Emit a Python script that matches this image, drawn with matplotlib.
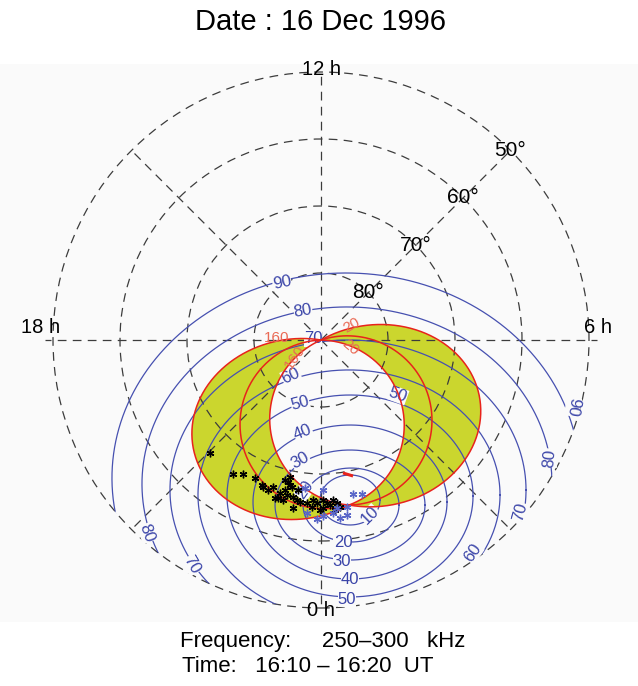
import numpy as np
import matplotlib.pyplot as plt
from matplotlib.patches import Circle, Polygon, Rectangle

plt.rcParams['font.family'] = ['Liberation Sans', 'DejaVu Sans']

# map coordinates are degrees of colatitude: x toward 06 MLT, y toward 12 MLT
lat_circles = [80, 70, 60, 50]
lat_labels = ['80°', '70°', '60°', '50°']
mlt_lines = [0, 3, 6, 9, 12, 15, 18, 21]

# source footprint, where all the cone curves meet again
src_x, src_y = 4.18, -24.63

# cone curves: side of the pole-source chord, bulge and ellipse centre offset (deg)
cone_side = [-1, -1, -1, 1, 1, 1]
cone_bulge = [21.5, 14.2, 9.7, 10.3, 14.5, 21.9]
cone_offset = [5.8, 1.6, -3.2, -2.4, 1.85, 6.1]
cone_text = ['160', '160', '20', '20']
cone_text_x = [-6.57, -3.88, 4.63, 4.33]
cone_text_y = [0.30, -2.54, 2.24, -1.04]
cone_text_rot = [0, 55, 30, -40]

# angle contours (ellipses in map coordinates)
ang_levels = [10, 20, 30, 40, 50, 60, 70, 80, 90]
ang_cx = [4.33, 4.48, 4.33, 4.33, 4.33, 4.18, 4.03, 3.88, 3.73]
ang_cy = [-23.88, -24.63, -24.63, -24.18, -23.28, -23.13, -22.39, -21.49, -20.60]
ang_a = [4.48, 7.16, 11.19, 14.48, 18.36, 22.54, 26.57, 30.60, 34.93]
ang_b = [3.73, 5.52, 8.21, 11.49, 15.07, 18.66, 22.39, 26.42, 30.60]

ang_text = ['90', '80', '70', '60', '50', '40', '30', '20', '50', '10', '20', '30', '40', '50',
            '60', '70', '80', '90', '80', '70']
ang_text_x = [-5.82, -2.69, -1.19, -4.48, -3.13, -2.69, -3.13, -2.39, 11.49, 7.31, 3.28, 3.13,
              4.33, 3.88, 22.69, 29.70, 34.18, 37.61, -25.97, -19.25]
ang_text_y = [8.51, 4.33, 0.15, -5.37, -9.40, -13.73, -17.91, -22.39, -8.21, -26.12, -30.15,
              -33.13, -35.82, -38.66, -31.79, -25.67, -17.61, -10.0, -28.81, -33.58]
ang_text_rot = [12, 10, 0, 25, 15, 22, 30, 55, -20, 45, 0, 0, 0, 0, 55, 75, 85, -100, -70, -60]

# observed source positions
obs_x = [-16.57, -13.13, -11.64, -9.85, -8.81, -8.66, -7.16, -6.87, -6.42, -5.37, -4.93, -4.63,
         -4.33, -5.37, -5.07, -4.18, -3.58, -4.18, -3.43, -3.13, -2.09, -1.34, -1.19, -0.60,
         -0.15, 0.30, 0.30, 0.90, 1.34, 1.79, 2.09, 2.39, 2.84, -6.12, -4.63, -7.91, -5.67]
obs_y = [-16.87, -20.0, -20.0, -20.6, -21.64, -21.94, -21.94, -23.58, -23.58, -20.9, -21.19,
         -21.64, -21.94, -22.39, -23.13, -23.43, -23.88, -25.07, -22.39, -24.18, -24.33, -24.93,
         -23.88, -24.33, -25.37, -25.07, -23.88, -24.33, -24.63, -23.88, -25.37, -24.33, -24.93,
         -22.84, -20.45, -22.39, -23.88]
alt_x = [-2.39, 0.30, 4.78, 6.12, -0.60, 0.30, 1.79, 2.84, 3.88, 2.39, 3.88, -2.09]
alt_y = [-22.09, -22.39, -22.99, -22.99, -26.72, -26.27, -25.82, -26.57, -26.12, -25.07,
         -24.93, -25.82]

# spacecraft footprint track
sc_x = [3.28, 4.78]
sc_y = [-19.85, -20.30]

grid_col = '#3c3c3c'
blue = '#4650b0'
red = '#e8231c'
bg = '#fafafa'
dash = (0, (7, 5))


def cone_arc(side, bulge, offset, n=300):
    h = np.hypot(src_x, src_y) / 2
    u = np.array([src_x, src_y]) / (2 * h)
    nrm = np.array([-u[1], u[0]]) * side
    mid = u * h
    c = mid + offset * nrm
    b = bulge - offset
    a = h / np.sqrt(1 - (offset / b) ** 2)
    alpha = np.arctan2(-offset / b, h / a)
    phi = np.linspace(alpha, np.pi - alpha, n)
    pts = c + np.outer(a * np.cos(phi), u) + np.outer(b * np.sin(phi), nrm)
    return pts  # source -> pole


fig = plt.figure(figsize=(6.38, 6.86), dpi=100)
ax = fig.add_axes([0, 0, 1, 1])
ax.set_xlim(-321 / 6.7, (638 - 321) / 6.7)
ax.set_ylim((340 - 686) / 6.7, 340 / 6.7)
ax.axis('off')

ax.add_patch(Rectangle((0, 64 / 686), 1, (622 - 64) / 686, transform=ax.transAxes,
                       facecolor=bg, edgecolor='none', zorder=0))

# latitude circles and MLT meridians
for lat in lat_circles:
    r = 90 - lat
    ax.add_patch(Circle((0, 0), r, fill=False, ec=grid_col, lw=0.9, ls=dash, zorder=2))
for mlt in mlt_lines:
    ang = np.radians(mlt * 15)
    rmax = 41.2 if mlt in (6, 18) else 40
    ax.plot([0, rmax * np.sin(ang)], [0, -rmax * np.cos(ang)], color=grid_col, lw=0.9,
            ls=dash, zorder=2)

# yellow crescents between outer and inner cone curves
arcs = [cone_arc(s, b, o) for s, b, o in zip(cone_side, cone_bulge, cone_offset)]
for outer, inner in [(arcs[0], arcs[2]), (arcs[5], arcs[3])]:
    poly = np.vstack([outer, inner[::-1]])
    ax.add_patch(Polygon(poly, closed=True, facecolor='#cbd62e', edgecolor='none', zorder=1))

# angle contours, clipped at the 50 deg circle
clip = Circle((0, 0), 40, transform=ax.transData)
t = np.linspace(0, 2 * np.pi, 400)
for cx, cy, a, b in zip(ang_cx, ang_cy, ang_a, ang_b):
    ln, = ax.plot(cx + a * np.cos(t), cy + b * np.sin(t), color=blue, lw=0.9, zorder=3)
    ln.set_clip_path(clip)

for pts in arcs:
    ax.plot(pts[:, 0], pts[:, 1], color=red, lw=1.1, zorder=4)

for s, x, y, rot in zip(ang_text, ang_text_x, ang_text_y, ang_text_rot):
    ax.text(x, y, s, color='#3a44a8', fontsize=12, ha='center', va='center', rotation=rot,
            zorder=3.5, bbox=dict(facecolor=bg, edgecolor='none', pad=0.1))

for s, x, y, rot in zip(cone_text, cone_text_x, cone_text_y, cone_text_rot):
    ax.text(x, y, s, color='#ea6a55', fontsize=11, ha='center', va='center', rotation=rot,
            zorder=5)

ax.plot(obs_x, obs_y, ls='none', marker=(6, 2, 0), ms=5.5, mew=1.0, color='black', zorder=6)
ax.plot(alt_x, alt_y, ls='none', marker=(6, 2, 0), ms=5.5, mew=1.0, color='#5a66c8', zorder=6)
ax.plot(sc_x, sc_y, color=red, lw=2.2, solid_capstyle='butt', zorder=6)

# latitude labels on the 01:30 MLT meridian
for lat, txt in zip(lat_circles, lat_labels):
    r = 90 - lat
    ax.text(r * np.sin(np.radians(135)), -r * np.cos(np.radians(135)), txt, fontsize=15,
            ha='center', va='center', zorder=7)

ax.text(0, 40.3, '12 h', fontsize=14.5, ha='center', va='center', zorder=7)
ax.text(0, -40.3, '0 h', fontsize=14.5, ha='center', va='center', zorder=7)
ax.text(-44.8, 1.9, '18 h', fontsize=14.5, ha='left', va='center', zorder=7)
ax.text(39.3, 1.9, '6 h', fontsize=14.5, ha='left', va='center', zorder=7)

fig.text(0.503, 1 - 22 / 686, 'Date : 16 Dec 1996', fontsize=21, ha='center', va='center')
fig.text(180 / 638, 1 - 641 / 686, 'Frequency:     250–300   kHz', fontsize=16, ha='left',
         va='center')
fig.text(182 / 638, 1 - 667 / 686, 'Time:   16:10 – 16:20  UT', fontsize=16, ha='left',
         va='center')

fig.savefig('out.png', dpi=100, facecolor='white')
